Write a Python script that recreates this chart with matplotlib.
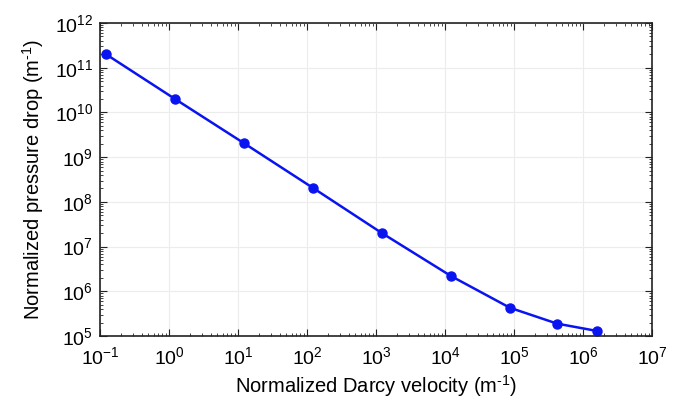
import matplotlib
matplotlib.use("Agg")
import matplotlib.pyplot as plt
from matplotlib.ticker import LogLocator, NullFormatter

plt.rcParams['font.family'] = ['Liberation Sans', 'DejaVu Sans']
plt.rcParams['mathtext.fontset'] = 'custom'
plt.rcParams['mathtext.rm'] = 'Liberation Sans'
plt.rcParams['mathtext.it'] = 'Liberation Sans'

darcy_velocity = [0.122, 1.22, 12.2, 122, 1220, 12200, 8.7e4, 4.2e5, 1.6e6]
pressure_drop = [2.0e11, 2.0e10, 2.05e9, 2.05e8, 2.0e7, 2.2e6, 4.3e5, 1.9e5, 1.3e5]

fig = plt.figure(figsize=(6.85, 4.03), dpi=100)
ax = fig.add_axes([0.146, 0.166, 0.806, 0.777])
ax.plot(darcy_velocity, pressure_drop, '-o', color='#0a14f0', lw=1.8, ms=6.5)
ax.set_xscale('log')
ax.set_yscale('log')
ax.set_xlim(1e-1, 1e7)
ax.set_ylim(1e5, 1e12)
ax.xaxis.set_major_locator(LogLocator(base=10, numticks=20))
ax.yaxis.set_major_locator(LogLocator(base=10, numticks=20))
ax.xaxis.set_minor_locator(LogLocator(base=10, subs=range(2, 10), numticks=20))
ax.yaxis.set_minor_locator(LogLocator(base=10, subs=range(2, 10), numticks=20))
ax.xaxis.set_minor_formatter(NullFormatter())
ax.yaxis.set_minor_formatter(NullFormatter())
ax.grid(True, which='major', color='#ececec', lw=0.8)
ax.tick_params(which='both', direction='in', top=True, right=True, labelsize=14, color='#222222')
ax.tick_params(axis='x', which='major', pad=7)
ax.tick_params(axis='y', which='major', pad=5)
ax.tick_params(which='major', length=5)
ax.tick_params(which='minor', length=2.5)
for s in ax.spines.values():
    s.set_linewidth(1.2)
    s.set_color('#222222')
ax.set_xlabel('Normalized Darcy velocity (m$^{\\text{-}1}$)', fontsize=14.5, labelpad=4)
ax.set_ylabel('Normalized pressure drop (m$^{\\text{-}1}$)', fontsize=14.5, labelpad=6)
fig.savefig('out.png', dpi=100)
